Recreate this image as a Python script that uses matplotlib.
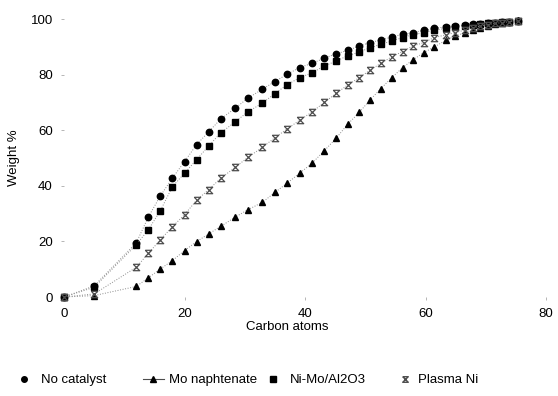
import matplotlib
matplotlib.use("Agg")
import matplotlib.pyplot as plt
from matplotlib.path import Path
from matplotlib.lines import Line2D

plt.rcParams['font.family'] = ['Liberation Sans', 'DejaVu Sans']

carbon = [0, 5, 12, 14, 16, 18, 20, 22, 24, 26, 28.4, 30.5, 32.9, 35, 37, 39.1, 41.2, 43.2, 45.2,
          47.1, 49, 50.8, 52.6, 54.4, 56.2, 57.9, 59.7, 61.4, 63.4, 64.9, 66.5, 67.9, 69.1, 70.3,
          71.5, 72.7, 73.9, 75.3]
no_catalyst = [0, 4, 19.5, 28.8, 36.4, 42.8, 48.7, 54.8, 59.4, 64.0, 67.9, 71.5, 74.7, 77.5, 80.1,
               82.5, 84.1, 85.9, 87.5, 88.7, 90.3, 91.5, 92.5, 93.5, 94.5, 95.1, 95.9, 96.6, 97.2,
               97.5, 97.8, 98.1, 98.3, 98.5, 98.7, 98.9, 99.1, 99.4]
mo_naphtenate = [0, 0.5, 3.8, 6.9, 10.1, 13.1, 16.7, 19.9, 22.7, 25.4, 28.7, 31.4, 34.0, 37.6, 40.9,
                 44.5, 48.2, 52.6, 57.2, 62.2, 66.4, 70.9, 75.0, 78.9, 82.5, 85.3, 87.9, 89.9, 92.4,
                 93.9, 95.0, 96.0, 96.9, 97.6, 98.2, 98.7, 99.1, 99.5]
ni_mo = [0, 3.5, 18.8, 24.2, 31.1, 39.7, 44.5, 49.4, 54.3, 59.0, 63.0, 66.6, 69.7, 73.2, 76.3,
         78.9, 80.7, 83.1, 84.9, 86.8, 88.1, 89.7, 90.9, 92.1, 93.3, 94.3, 95.1, 96.0, 96.6,
         97.1, 97.5, 97.9, 98.2, 98.5, 98.7, 98.9, 99.1, 99.4]
plasma_ni = [0, 1.1, 10.7, 15.7, 20.6, 25.3, 29.6, 34.8, 38.6, 42.7, 46.6, 50.2, 53.8, 57.3, 60.4,
             63.6, 66.6, 70.0, 73.3, 76.3, 78.9, 81.6, 84.1, 86.4, 88.3, 90.3, 91.5, 93.3, 94.3,
             95.1, 96.0, 96.8, 97.5, 98.0, 98.4, 98.7, 99.0, 99.3]
labels = ["No catalyst", "Mo naphtenate", "Ni-Mo/Al2O3", "Plasma Ni"]

# hourglass-like cross marker seen in the scan
hourglass = Path([(-1, 1), (1, 1), (-1, -1), (1, -1), (-1, 1)],
                 [Path.MOVETO, Path.LINETO, Path.LINETO, Path.LINETO, Path.LINETO])

fig = plt.figure(figsize=(5.58, 3.96), dpi=100)
ax = fig.add_axes([0.1147, 0.25, 0.8638, 0.702])

line_kw = dict(color='0.55', lw=0.7, ls=':')
ax.plot(carbon, no_catalyst, marker='o', ms=4.6, mfc='black', mec='black', clip_on=False, **line_kw)
ax.plot(carbon, mo_naphtenate, marker='^', ms=4.6, mfc='black', mec='black', clip_on=False, **line_kw)
ax.plot(carbon, ni_mo, marker='s', ms=4.4, mfc='black', mec='black', clip_on=False, **line_kw)
ax.plot(carbon, plasma_ni, marker=hourglass, ms=4.6, mfc='none', mec='0.3', mew=0.9, clip_on=False, **line_kw)

ax.set_xlim(0, 80)
ax.set_ylim(0, 100)
ax.set_xticks([0, 20, 40, 60, 80])
ax.set_yticks([0, 20, 40, 60, 80, 100])
for s in ax.spines.values():
    s.set_visible(False)
ax.tick_params(axis='both', length=2, width=0.5, color='0.6', labelsize=9.5, pad=6)
ax.set_xlabel("Carbon atoms", fontsize=9.5, labelpad=1)
ax.xaxis.set_label_coords(0.463, -0.085)
ax.set_ylabel("Weight %", fontsize=9.5, labelpad=8)

handles = [
    Line2D([], [], ls='none', marker='o', ms=4, color='black'),
    Line2D([], [], color='0.3', lw=0.8, marker='^', ms=4, mfc='black', mec='black'),
    Line2D([], [], ls='none', marker='s', ms=4, color='black'),
    Line2D([], [], ls='none', marker=hourglass, ms=4, mfc='none', mec='0.3'),
]
# one small legend per entry so each sits where the scan has it
starts = [7, 136, 256, 388]
pads = [0.5, 0.4, 0.5, 0.2]
for h, lab, x0, pad in zip(handles, labels, starts, pads):
    fig.legend([h], [lab], loc='center left', bbox_to_anchor=(x0 / 558, 0.04),
               frameon=False, fontsize=9.5, handlelength=1.6, handletextpad=pad, borderpad=0)

fig.savefig("out.png", dpi=100)
